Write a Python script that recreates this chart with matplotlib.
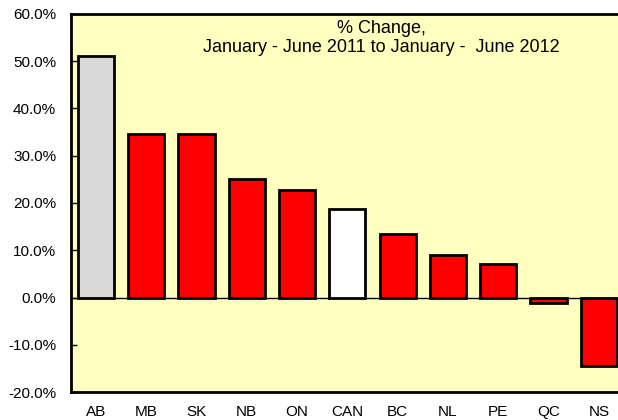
import numpy as np
import matplotlib.pyplot as plt

# Data
regions = ['AB', 'MB', 'SK', 'NB', 'ON', 'CAN', 'BC', 'NL', 'PE', 'QC', 'NS']
pct_change = [51.2, 34.6, 34.5, 25.1, 22.7, 18.7, 13.4, 8.9, 7.1, -1.2, -14.6]
bar_colors = ['#D9D9D9', 'red', 'red', 'red', 'red', 'white',
              'red', 'red', 'red', 'red', 'red']
yticks = np.arange(-20, 61, 10)

plt.rcParams['font.family'] = ['Liberation Sans', 'DejaVu Sans']

fig = plt.figure(figsize=(6.18, 4.2), dpi=100)
# axes runs past the right edge of the image, as in the original crop
ax = fig.add_axes([70.7 / 618, 1 - 392 / 420, 553.3 / 618, 378 / 420])
ax.set_facecolor('#FFFFC0')

x = np.arange(len(regions))
ax.bar(x, pct_change, width=0.72, color=bar_colors, edgecolor='black',
       linewidth=2, zorder=3)
ax.axhline(0, color='black', linewidth=1, zorder=2)

ax.set_xlim(-0.5, 10.5)
ax.set_ylim(-20, 60)
ax.set_yticks(yticks)
ax.set_yticklabels([f'{v:.1f}%' for v in yticks], fontsize=11)
ax.set_xticks(x)
ax.set_xticklabels(regions, fontsize=11)
ax.tick_params(axis='y', direction='in', length=4, width=1, pad=10.5)
ax.tick_params(axis='x', length=0, pad=9.5)

for s in ax.spines.values():
    s.set_linewidth(2)

ax.text(5.67, 0.9354, '% Change,\nJanuary - June 2011 to January -  June 2012',
        transform=ax.get_xaxis_transform(), ha='center', va='center',
        fontsize=13, linespacing=1.15)

fig.savefig('out.png', dpi=100)
